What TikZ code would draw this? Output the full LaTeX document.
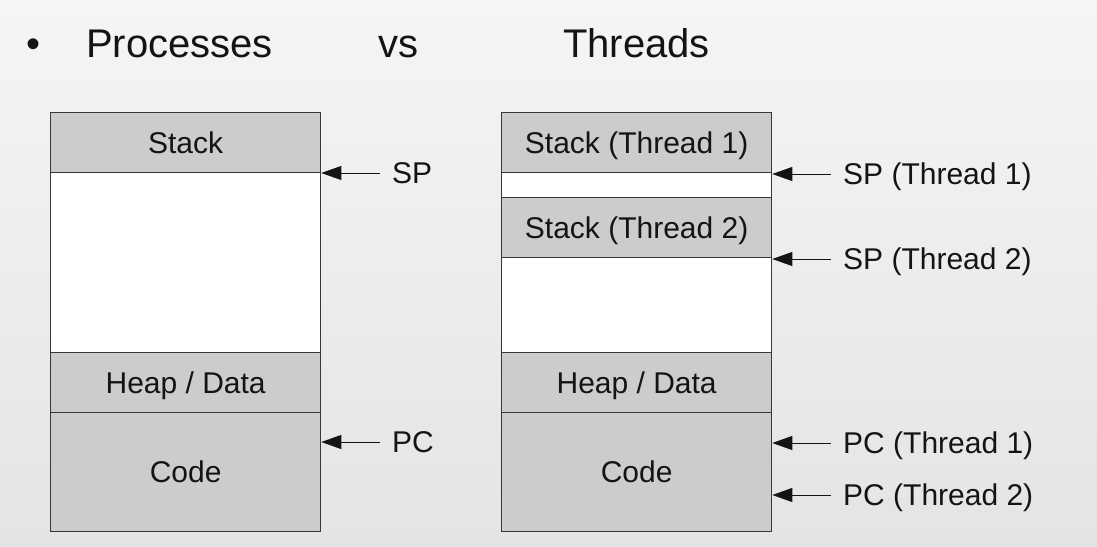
\documentclass[tikz,border=0pt]{standalone}
\usepackage{fontspec}
\setmainfont{Liberation Sans}
\usetikzlibrary{arrows.meta}
\definecolor{bgtop}{RGB}{245,245,245}
\definecolor{bgbot}{RGB}{228,228,228}
\definecolor{boxgray}{RGB}{204,204,204}
\definecolor{edge}{RGB}{55,55,55}
\definecolor{ink}{RGB}{20,20,20}
\begin{document}
\begin{tikzpicture}[x=1pt,y=-1pt,
  seg/.style={draw=edge, line width=1.3pt, fill=#1, minimum width=270pt, inner sep=0pt, anchor=north west, text=ink, text height=21.5pt, text depth=0pt, font=\fontsize{30}{36}\selectfont},
  lbl/.style={anchor=west, inner sep=0pt, text height=21.5pt, text depth=0pt, text=ink, font=\fontsize{30}{36}\selectfont},
  ptr/.style={draw=ink, line width=0.9pt, -{Triangle[length=20pt,width=14pt]}},
  ttl/.style={anchor=base west, inner sep=0pt, text=ink, font=\fontsize{40}{48}\selectfont}]
\shade[top color=bgtop, bottom color=bgbot] (0,0) rectangle (1097,546);
\useasboundingbox (0,0) rectangle (1097,546);
% title
\node[ttl] (bul) at (26,57) {•};
\node[ttl] (tp) at (86,57) {Processes};
\node[ttl] (tv) at (378,57) {vs};
\node[ttl] (tt) at (563,57) {Threads};
% process
\node[seg=boxgray, minimum height=60pt] (pstack) at (50,112) {Stack};
\node[seg=white, minimum height=180pt] (pfree) at (50,172) {};
\node[seg=boxgray, minimum height=60pt] (pheap) at (50,352) {Heap / Data};
\node[seg=boxgray, minimum height=119pt] (pcode) at (50,412) {Code};
% threads
\node[seg=boxgray, minimum height=60pt] (tstack1) at (501,112) {Stack (Thread 1)};
\node[seg=white, minimum height=25pt] (tfree1) at (501,172) {};
\node[seg=boxgray, minimum height=60pt] (tstack2) at (501,197) {Stack (Thread 2)};
\node[seg=white, minimum height=95pt] (tfree2) at (501,257) {};
\node[seg=boxgray, minimum height=60pt] (theap) at (501,352) {Heap / Data};
\node[seg=boxgray, minimum height=119pt] (tcode) at (501,412) {Code};
% labels
\node[lbl] (sp) at (392,173) {SP};
\node[lbl] (pc) at (392,442) {PC};
\node[lbl] (sp1) at (843,174) {SP (Thread 1)};
\node[lbl] (sp2) at (843,259) {SP (Thread 2)};
\node[lbl] (pc1) at (843,443) {PC (Thread 1)};
\node[lbl] (pc2) at (843,495) {PC (Thread 2)};
% arrows
\draw[ptr] ([xshift=-12pt]sp.west) -- (sp.west -| pstack.east);
\draw[ptr] ([xshift=-12pt]pc.west) -- (pc.west -| pcode.east);
\draw[ptr] ([xshift=-12pt]sp1.west) -- (sp1.west -| tstack1.east);
\draw[ptr] ([xshift=-12pt]sp2.west) -- (sp2.west -| tstack2.east);
\draw[ptr] ([xshift=-12pt]pc1.west) -- (pc1.west -| tcode.east);
\draw[ptr] ([xshift=-12pt]pc2.west) -- (pc2.west -| tcode.east);
\end{tikzpicture}
\end{document}
